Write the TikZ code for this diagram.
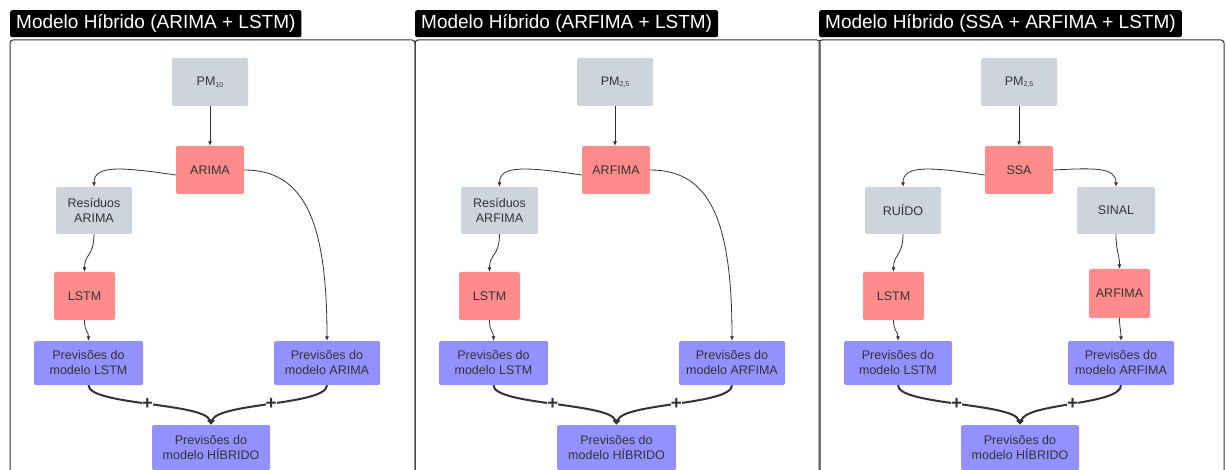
\documentclass[tikz,border=0pt]{standalone}
\usepackage{fontspec}
\setmainfont{Liberation Sans}
\usetikzlibrary{arrows.meta}
\definecolor{boxgray}{HTML}{CED4DC}
\definecolor{boxred}{HTML}{FF8C8C}
\definecolor{boxblue}{HTML}{9391FF}
\definecolor{ink}{HTML}{333333}
\newcommand{\indice}[1]{\raisebox{-1.5pt}{\fontsize{7}{7}\selectfont #1}}

\begin{document}
\begin{tikzpicture}[x=1pt,y=-1pt,
    every node/.style={font=\fontsize{12.5}{15}\selectfont,text=ink,align=center,inner sep=0pt},
    dado/.style={fill=boxgray,rounded corners=1.5pt,minimum height=48pt},
    modelo/.style={fill=boxred,rounded corners=1.5pt,minimum height=48pt},
    previsao/.style={fill=boxblue,rounded corners=1.5pt,minimum height=44pt},
    titulo/.style={fill=black,text=white,anchor=north west,font=\fontsize{19}{22}\selectfont,
        inner xsep=6pt,minimum height=27pt,rounded corners=2pt},
    painel/.style={draw=ink,line width=1pt,rounded corners=3pt},
    seta/.style={draw=ink,line width=0.8pt,-{Latex[length=4.5pt,width=4pt]}},
    soma/.style={draw=ink,line width=2pt,-{Latex[length=5pt,width=6pt]}},
    mais/.style={fill=white,font=\bfseries\fontsize{19}{19}\selectfont,inner sep=0pt}]
        \clip (0,0) rectangle (1226,470);
        \fill[white] (0,0) rectangle (1226,470);
        %% Panels
        \draw[painel] (10,40) rectangle (415,490);
        \draw[painel] (415,40) rectangle (820,490);
        \draw[painel] (819,40) rectangle (1224,490);
        \node[titulo] (tituloA) at (10,10) {Modelo Híbrido (ARIMA + LSTM)};
        \node[titulo] (tituloB) at (415,10) {Modelo Híbrido (ARFIMA + LSTM)};
        \node[titulo] (tituloC) at (819,10) {Modelo Híbrido (SSA + ARFIMA + LSTM)};
        %% ARIMA + LSTM
        \node[dado,minimum width=76pt] (pmA) at (210,82) {PM\indice{10}};
        \node[modelo,minimum width=68pt] (arimaA) at (210,170) {ARIMA};
        \node[dado,minimum width=76pt,minimum height=47pt] (resA) at (94,210.5) {Resíduos\\ARIMA};
        \node[modelo,minimum width=61pt] (lstmA) at (84.5,296) {LSTM};
        \node[previsao,minimum width=109pt] (prevLA) at (88.5,363) {Previsões do\\modelo LSTM};
        \node[previsao,minimum width=106pt] (prevRA) at (327,363) {Previsões do\\modelo ARIMA};
        \node[previsao,minimum width=118pt,minimum height=45pt] (hibA) at (211,447.5) {Previsões do\\modelo HÍBRIDO};
        \draw[seta] (pmA) -- (arimaA);
        \draw[seta] ([yshift=-5pt]arimaA.west) .. controls +(-55,-8) and +(0,-22) .. (resA.north);
        \draw[seta] (arimaA.east) .. controls +(60,0) and +(0,-120) .. (prevRA.north);
        \draw[seta] (resA.south) .. controls +(0,22) and +(0,-18) .. (lstmA.north);
        \draw[seta] (lstmA.south) .. controls +(0,12) and +(0,-10) .. (prevLA.north);
        \draw[soma] (prevLA.south) .. controls +(0,20) and +(-6,-22) .. node[mais] {+} (hibA.north);
        \draw[soma] (prevRA.south) .. controls +(0,20) and +(6,-22) .. node[mais] {+} (hibA.north);
        %% ARFIMA + LSTM
        \node[dado,minimum width=76pt] (pmB) at (615,82) {PM\indice{2,5}};
        \node[modelo,minimum width=68pt] (arfimaB) at (616,170) {ARFIMA};
        \node[dado,minimum width=77pt,minimum height=47pt] (resB) at (499.5,210.5) {Resíduos\\ARFIMA};
        \node[modelo,minimum width=61pt] (lstmB) at (489.5,296) {LSTM};
        \node[previsao,minimum width=109pt] (prevLB) at (493.5,363) {Previsões do\\modelo LSTM};
        \node[previsao,minimum width=106pt] (prevRB) at (732,363) {Previsões do\\modelo ARFIMA};
        \node[previsao,minimum width=119pt,minimum height=45pt] (hibB) at (616.5,447.5) {Previsões do\\modelo HÍBRIDO};
        \draw[seta] (pmB) -- (pmB|-arfimaB.north);
        \draw[seta] ([yshift=-5pt]arfimaB.west) .. controls +(-55,-8) and +(0,-22) .. (resB.north);
        \draw[seta] (arfimaB.east) .. controls +(60,0) and +(0,-120) .. (prevRB.north);
        \draw[seta] (resB.south) .. controls +(0,22) and +(0,-18) .. (lstmB.north);
        \draw[seta] (lstmB.south) .. controls +(0,12) and +(0,-10) .. (prevLB.north);
        \draw[soma] (prevLB.south) .. controls +(0,20) and +(-6,-22) .. node[mais] {+} (hibB.north);
        \draw[soma] (prevRB.south) .. controls +(0,20) and +(6,-22) .. node[mais] {+} (hibB.north);
        %% SSA + ARFIMA + LSTM
        \node[dado,minimum width=76pt] (pmC) at (1019,82) {PM\indice{2,5}};
        \node[modelo,minimum width=68pt] (ssaC) at (1019,170) {SSA};
        \node[dado,minimum width=76pt,minimum height=47pt] (ruidoC) at (903,210.5) {RUÍDO};
        \node[dado,minimum width=78pt,minimum height=47pt] (sinalC) at (1116,210.5) {SINAL};
        \node[modelo,minimum width=61pt] (lstmC) at (893.5,296) {LSTM};
        \node[modelo,minimum width=61pt,minimum height=49pt] (arfimaC) at (1119.5,293.5) {ARFIMA};
        \node[previsao,minimum width=108pt] (prevLC) at (898,363) {Previsões do\\modelo LSTM};
        \node[previsao,minimum width=106pt] (prevRC) at (1121,363) {Previsões do\\modelo ARFIMA};
        \node[previsao,minimum width=118pt,minimum height=45pt] (hibC) at (1020,447.5) {Previsões do\\modelo HÍBRIDO};
        \draw[seta] (pmC) -- (ssaC);
        \draw[seta] ([yshift=-5pt]ssaC.west) .. controls +(-55,-8) and +(0,-22) .. (ruidoC.north);
        \draw[seta] (ssaC.east) .. controls +(40,-2) and +(0,-20) .. (sinalC.north);
        \draw[seta] (ruidoC.south) .. controls +(0,22) and +(0,-18) .. (lstmC.north);
        \draw[seta] (sinalC.south) .. controls +(0,18) and +(0,-15) .. (arfimaC.north);
        \draw[seta] (lstmC.south) .. controls +(0,12) and +(0,-10) .. (prevLC.north);
        \draw[seta] (arfimaC.south) .. controls +(0,10) and +(0,-10) .. (prevRC.north);
        \draw[soma] (prevLC.south) .. controls +(0,20) and +(-6,-22) .. node[mais] {+} (hibC.north);
        \draw[soma] (prevRC.south) .. controls +(0,20) and +(6,-22) .. node[mais] {+} (hibC.north);
\end{tikzpicture}
\end{document}
